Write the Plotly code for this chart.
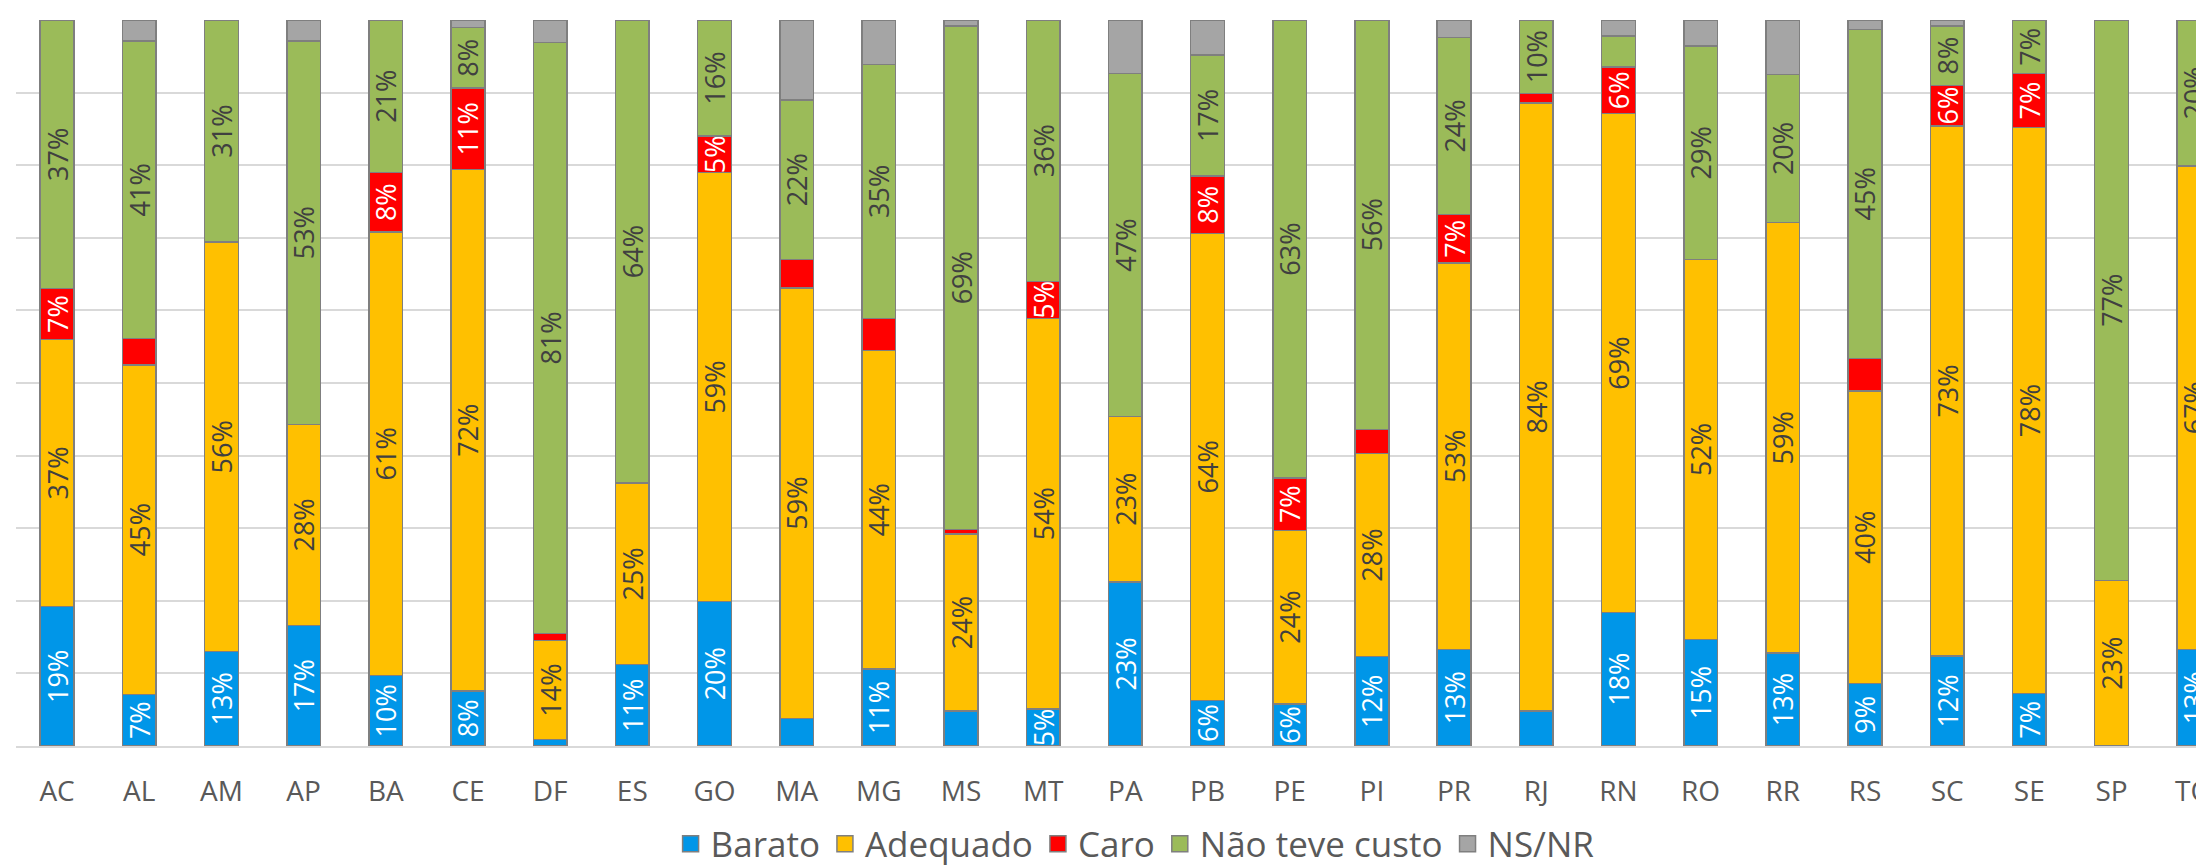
import plotly.graph_objects as go

states = ["AC", "AL", "AM", "AP", "BA", "CE", "DF", "ES", "GO", "MA", "MG", "MS", "MT", "PA",
          "PB", "PE", "PI", "PR", "RJ", "RN", "RO", "RR", "RS", "SC", "SE", "SP", "TO"]

barato =    [19.2, 7.1, 13.0, 16.6, 9.7, 7.6, 0.9, 11.2, 19.9, 3.8, 10.6, 4.8, 5.1, 22.6,
             6.3, 5.8, 12.3, 13.3, 4.8, 18.4, 14.7, 12.8, 8.6, 12.4, 7.2, 0.0, 13.3]
adequado =  [36.8, 45.4, 56.4, 27.7, 61.1, 71.8, 13.6, 25.0, 59.1, 59.3, 43.9, 24.4, 53.8, 22.8,
             64.3, 23.9, 28.0, 53.2, 83.8, 68.7, 52.3, 59.3, 40.3, 73.0, 78.0, 22.8, 66.6]
caro =      [7.0, 3.6, 0.0, 0.0, 8.2, 11.2, 1.0, 0.0, 5.0, 3.9, 4.4, 0.6, 5.1, 0.0,
             7.9, 7.2, 3.3, 6.7, 1.3, 6.4, 0.0, 0.0, 4.5, 5.6, 7.4, 0.0, 0.0]
nao_custo = [37.0, 41.0, 30.6, 52.8, 21.0, 8.4, 81.4, 63.8, 16.0, 22.0, 35.0, 69.4, 36.0, 47.2,
             16.7, 63.1, 56.4, 24.4, 10.1, 4.3, 29.4, 20.4, 45.3, 8.2, 7.4, 77.2, 20.1]
ns_nr =     [0.0, 2.9, 0.0, 2.9, 0.0, 1.0, 3.1, 0.0, 0.0, 11.0, 6.1, 0.8, 0.0, 7.4,
             4.8, 0.0, 0.0, 2.4, 0.0, 2.2, 3.6, 7.5, 1.3, 0.8, 0.0, 0.0, 0.0]

series_names = ["Barato", "Adequado", "Caro", "Não teve custo", "NS/NR"]
series_values = [barato, adequado, caro, nao_custo, ns_nr]
series_colors = ["#0096E8", "#FFC000", "#FF0000", "#9BBB59", "#A5A5A5"]
label_colors = ["#FFFFFF", "#404040", "#FFFFFF", "#404040", "#404040"]
show_labels = [True, True, True, True, False]

FONT = "Open Sans, Noto Sans, sans-serif"
OUTLINE = "#7F7F7F"

fig = go.Figure()
for name, vals, col, lcol, show in zip(series_names, series_values, series_colors,
                                       label_colors, show_labels):
    texts = [(f"{round(v):d}%" if (show and v >= 5) else "") for v in vals]
    fig.add_trace(go.Bar(
        name=name,
        x=states,
        y=vals,
        text=texts,
        texttemplate="%{text}",
        textposition="inside",
        insidetextanchor="middle",
        textangle=-90,
        textfont=dict(family=FONT, size=27, color=lcol),
        marker=dict(color=col, line=dict(color=OUTLINE, width=1.5)),
        legendgroup=name,
        showlegend=False,
        hoverinfo="x+y+name",
    ))

# legend entries with larger square swatches
for name, col in zip(series_names, series_colors):
    fig.add_trace(go.Scatter(
        name=name,
        x=[None], y=[None],
        mode="markers",
        marker=dict(symbol="square", size=22, color=col, line=dict(color=OUTLINE, width=1.5)),
        legendgroup=name,
        showlegend=True,
        hoverinfo="skip",
    ))

fig.update_layout(
    width=2204,
    height=866,
    barmode="stack",
    bargap=0.59,
    plot_bgcolor="white",
    paper_bgcolor="white",
    margin=dict(l=8, r=0, t=12, b=118),
    font=dict(family=FONT, color="#595959"),
    uniformtext=dict(mode="show", minsize=27),
    legend=dict(
        orientation="h",
        x=0.511, xanchor="center",
        y=-0.135, yanchor="middle",
        traceorder="normal",
        itemsizing="trace",
        font=dict(family=FONT, size=35, color="#595959"),
        bgcolor="rgba(0,0,0,0)",
    ),
    xaxis=dict(
        type="category",
        range=[-0.5, 26.15],
        showgrid=False,
        showline=True,
        linecolor="#D9D9D9",
        linewidth=1.5,
        ticks="",
        ticklabelstandoff=20,
        tickfont=dict(family=FONT, size=28, color="#595959"),
    ),
    yaxis=dict(
        range=[0, 100],
        dtick=10,
        showgrid=True,
        gridcolor="#D9D9D9",
        gridwidth=1.5,
        showticklabels=False,
        zeroline=False,
        showline=False,
    ),
)

fig.write_html("out.html", config={"displayModeBar": False})
